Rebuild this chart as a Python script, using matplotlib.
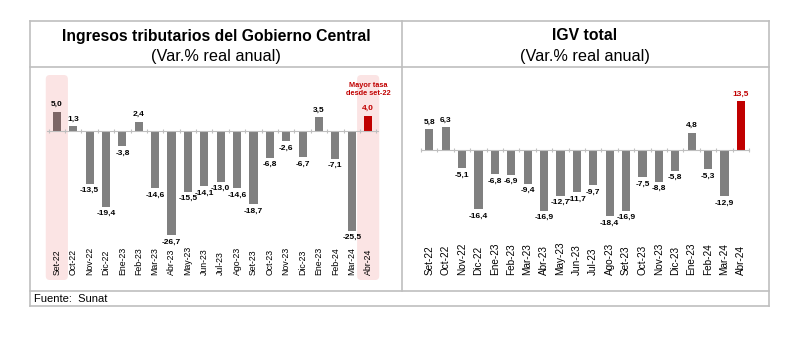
import numpy as np
import matplotlib
matplotlib.use("Agg")
import matplotlib.pyplot as plt
from matplotlib.lines import Line2D
from matplotlib.patches import FancyBboxPatch
from matplotlib.transforms import blended_transform_factory
from matplotlib import font_manager as fm

# data
meses_izq = ["Set-22", "Oct-22", "Nov-22", "Dic-22", "Ene-23", "Feb-23", "Mar-23", "Abr-23",
             "May-23", "Jun-23", "Jul-23", "Ago-23", "Set-23", "Oct-23", "Nov-23", "Dic-23",
             "Ene-23", "Feb-24", "Mar-24", "Abr-24"]
meses_der = list(meses_izq)
ingresos = [5.0, 1.3, -13.5, -19.4, -3.8, 2.4, -14.6, -26.7, -15.5, -14.1,
            -13.0, -14.6, -18.7, -6.8, -2.6, -6.7, 3.5, -7.1, -25.5, 4.0]
igv = [5.8, 6.3, -5.1, -16.4, -6.8, -6.9, -9.4, -16.9, -12.7, -11.7,
       -9.7, -18.4, -16.9, -7.5, -8.8, -5.8, 4.8, -5.3, -12.9, 13.5]

names = {f.name for f in fm.fontManager.ttflist}
narrow = "Liberation Sans Narrow" if "Liberation Sans Narrow" in names else "Liberation Sans"
plt.rcParams["font.family"] = ["Liberation Sans", "DejaVu Sans"]

W, H = 809, 338
fig = plt.figure(figsize=(W / 100, H / 100), dpi=100)

GRIS = "#808080"
ROJO = "#c00000"
ROSA = "#fbe4e4"
LINEA = "#bfbfbf"
# fuente estrecha disponible o no: ajustar tamaños
titulo_fs = 12.5 if narrow.endswith("Narrow") else 11.3
dato_fs = 6.5 if narrow.endswith("Narrow") else 6.0


def fx(px):
    return px / W


def fy(py):
    return 1 - py / H


def linea(x0, y0, x1, y1):
    fig.add_artist(Line2D([fx(x0), fx(x1)], [fy(y0), fy(y1)], color=LINEA, lw=1.2))


# marco
linea(30, 21, 769, 21)
linea(30, 67, 769, 67)
linea(30, 291, 769, 291)
linea(30, 306, 769, 306)
linea(30, 21, 30, 306)
linea(769, 21, 769, 306)
linea(402, 21, 402, 291)


def etiqueta(v):
    return f"{v:.1f}".replace(".", ",")


def panel(rect, valores, meses, xlim, ylim, colores, colores_txt, fs_tick):
    ax = fig.add_axes(rect)
    x = np.arange(len(valores))
    ax.bar(x, valores, width=0.5, color=colores, zorder=3)
    ax.set_xlim(*xlim)
    ax.set_ylim(*ylim)
    for s in ["top", "right", "left"]:
        ax.spines[s].set_visible(False)
    ax.spines["bottom"].set_position(("data", 0))
    ax.spines["bottom"].set_color(LINEA)
    ax.spines["bottom"].set_zorder(4)
    ax.set_yticks([])
    ax.set_xticks(np.arange(-0.5, len(valores), 1))
    ax.set_xticklabels([])
    ax.tick_params(axis="x", direction="inout", length=3, color=LINEA, width=0.8)
    ax.patch.set_visible(False)
    tr = blended_transform_factory(ax.transData, ax.transAxes)
    for i, m in enumerate(meses):
        ax.text(i, 0.025, m, rotation=90, ha="center", va="bottom",
                fontsize=fs_tick, transform=tr)
    for i, v in enumerate(valores):
        ax.annotate(etiqueta(v), (i, v), xytext=(0, 2.5 if v > 0 else -2.5),
                    textcoords="offset points", ha="center",
                    va="bottom" if v > 0 else "top", fontsize=dato_fs,
                    fontweight="bold", family=[narrow, "DejaVu Sans"],
                    color=colores_txt[i], zorder=5)
    return ax, tr


# panel izquierdo
ax_px_w, ax_px_h = 331, 205
ax1, tr1 = panel([fx(47), fy(280), fx(331), 205 / H], ingresos, meses_izq,
                 (-0.6, 19.6), (-38.2, 14.4),
                 ["#7d6666"] + [GRIS] * 18 + [ROJO],
                 ["black"] * 19 + [ROJO], 6.3)
upx = ax_px_w / 20.2
for xc in [0, 19]:
    w = 1.35
    p = FancyBboxPatch((xc - w / 2, 0.0), w, 1.0,
                       boxstyle="round,pad=0,rounding_size=0.25",
                       mutation_aspect=upx / ax_px_h,
                       transform=tr1, facecolor=ROSA, edgecolor="none",
                       zorder=1, clip_on=False)
    ax1.add_patch(p)
ax1.text(19, 0.93, "Mayor tasa\ndesde set-22", transform=tr1, ha="center",
         va="center", fontsize=5.3, fontweight="bold", color=ROJO,
         family=[narrow, "DejaVu Sans"], linespacing=1.1)

# panel derecho
ax2, tr2 = panel([fx(421), fy(280), fx(328), 205 / H], igv, meses_der,
                 (-0.5, 19.5), (-36.1, 20.8),
                 [GRIS] * 19 + [ROJO], ["black"] * 19 + [ROJO], 7.2)

# títulos
fig.text(fx(216), fy(36), "Ingresos tributarios del Gobierno Central", ha="center",
         va="center", fontsize=titulo_fs, fontweight="bold", family=[narrow, "DejaVu Sans"])
fig.text(fx(216), fy(56), "(Var.% real anual)", ha="center", va="center",
         fontsize=titulo_fs + 0.4, family=[narrow, "DejaVu Sans"])
fig.text(fx(585), fy(36), "IGV total", ha="center", va="center",
         fontsize=titulo_fs, fontweight="bold", family=[narrow, "DejaVu Sans"])
fig.text(fx(585), fy(56), "(Var.% real anual)", ha="center", va="center",
         fontsize=titulo_fs + 0.4, family=[narrow, "DejaVu Sans"])
fig.text(fx(34), fy(298.5), "Fuente:  Sunat", ha="left", va="center", fontsize=8)

fig.savefig("out.png", dpi=100)
